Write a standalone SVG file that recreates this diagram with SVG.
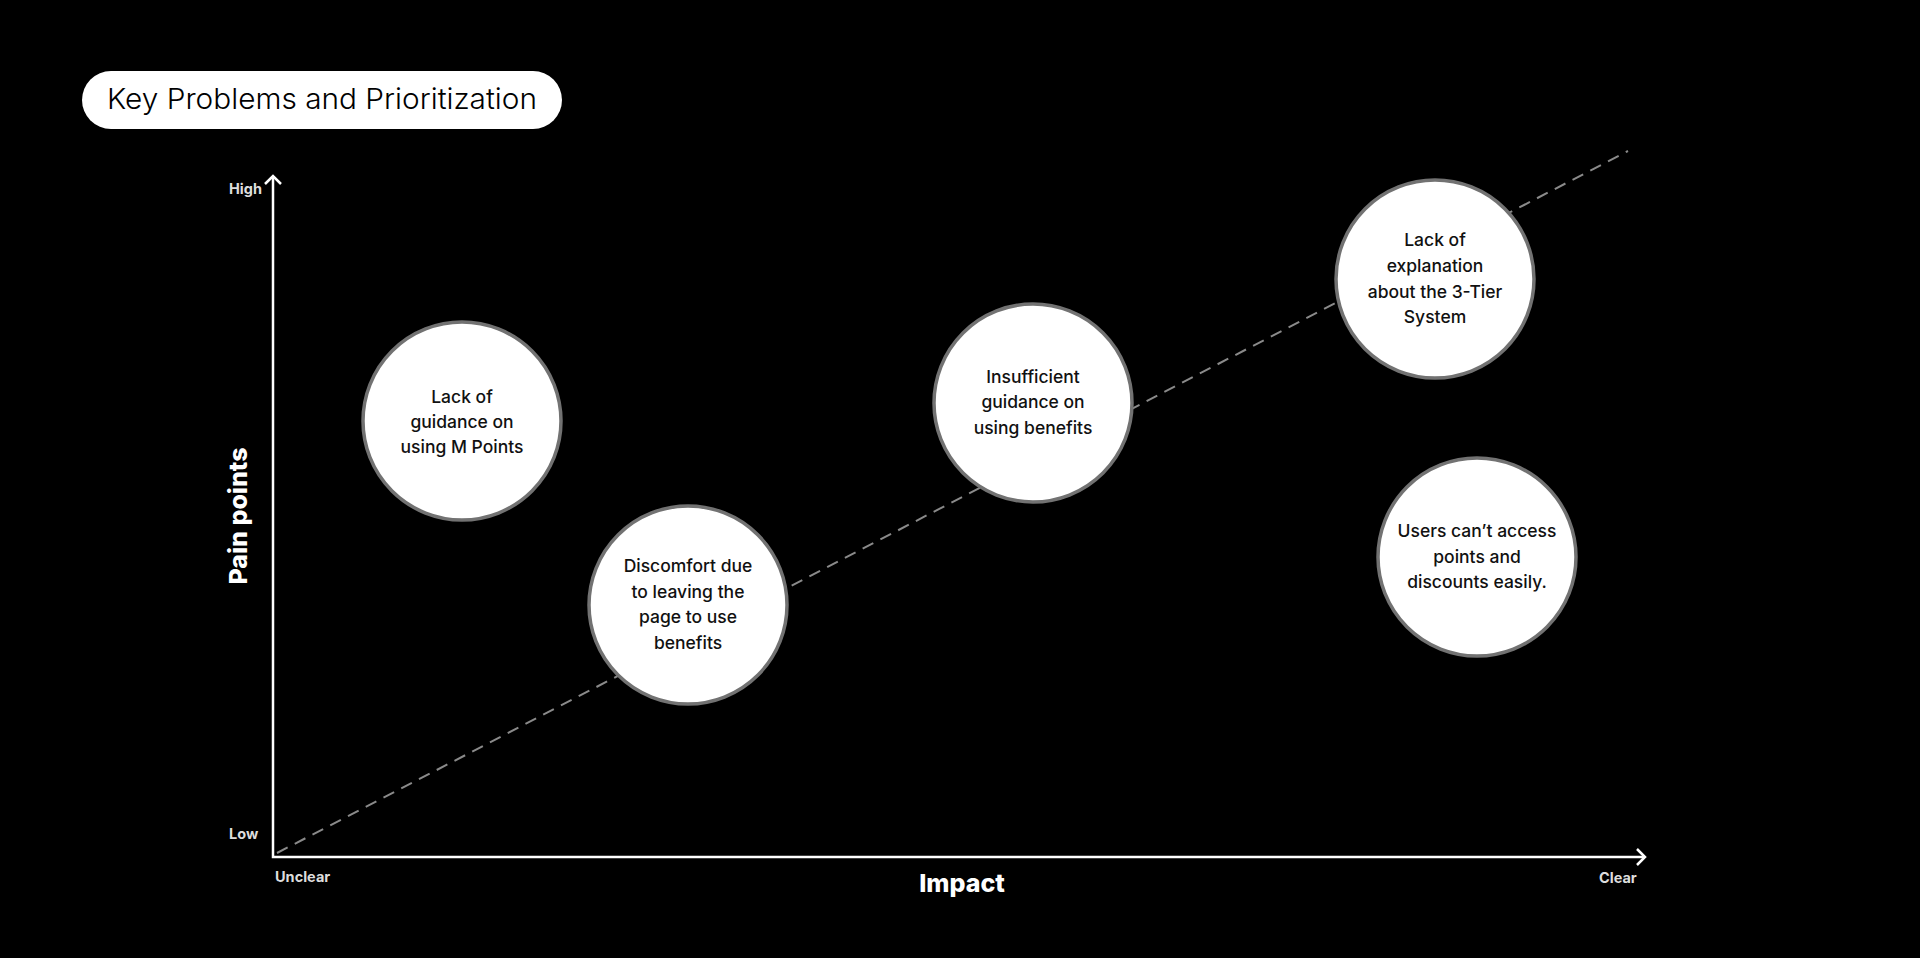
<svg xmlns="http://www.w3.org/2000/svg" width="1920" height="958" viewBox="0 0 1920 958">
<defs>
<style>
.node circle{fill:#fff;stroke:#727272;stroke-width:3.5}
.node text{font-family:Inter,"Noto Sans",sans-serif;font-size:17.5px;font-weight:500;fill:#111;text-anchor:middle}
.tick{font-family:Inter,"Noto Sans",sans-serif;font-size:14.5px;font-weight:700;fill:#ddd}
.axis-title{font-family:Inter,"Noto Sans",sans-serif;font-size:25px;font-weight:800;fill:#fff}
.axis{stroke:#fff;stroke-width:2.5;fill:none}
</style>
</defs>
<rect width="1920" height="958" fill="#000"/>
<g id="title">
<rect x="82" y="71" width="480" height="58" rx="29" fill="#fff"/>
<text x="107" y="109" font-family="Inter,'Noto Sans',sans-serif" font-weight="300" font-size="29" fill="#000" textLength="430" lengthAdjust="spacingAndGlyphs">Key Problems and Prioritization</text>
</g>
<g id="connectors">
<line x1="277" y1="853" x2="1628" y2="151" stroke="#8a8a8a" stroke-width="2" stroke-dasharray="12 8"/>
</g>
<g id="axes">
<polyline class="axis" points="273,176 273,857 1645,857"/>
<polyline class="axis" points="265,184 273,176 281,184"/>
<polyline class="axis" points="1637,849 1645,857 1637,865"/>
<text class="tick" x="229" y="194">High</text>
<text class="tick" x="229" y="839">Low</text>
<text class="tick" x="275" y="882">Unclear</text>
<text class="tick" x="1599" y="883">Clear</text>
<text class="axis-title" x="962" y="892" text-anchor="middle">Impact</text>
<text class="axis-title" transform="translate(247,516) rotate(-90)" text-anchor="middle">Pain points</text>
</g>
<g id="node1" class="node">
<circle cx="462" cy="421" r="99"/>
<text x="462" y="403">Lack of</text>
<text x="462" y="428">guidance on</text>
<text x="462" y="453">using M Points</text>
</g>
<g id="node2" class="node">
<circle cx="688" cy="605" r="99"/>
<text x="688" y="572">Discomfort due</text>
<text x="688" y="598">to leaving the</text>
<text x="688" y="623">page to use</text>
<text x="688" y="649">benefits</text>
</g>
<g id="node3" class="node">
<circle cx="1033" cy="403" r="99"/>
<text x="1033" y="383">Insufficient</text>
<text x="1033" y="408">guidance on</text>
<text x="1033" y="434">using benefits</text>
</g>
<g id="node4" class="node">
<circle cx="1435" cy="279" r="99"/>
<text x="1435" y="246">Lack of</text>
<text x="1435" y="272">explanation</text>
<text x="1435" y="298">about the 3-Tier</text>
<text x="1435" y="323">System</text>
</g>
<g id="node5" class="node">
<circle cx="1477" cy="557" r="99"/>
<text x="1477" y="537">Users can’t access</text>
<text x="1477" y="563">points and</text>
<text x="1477" y="588">discounts easily.</text>
</g>
</svg>
